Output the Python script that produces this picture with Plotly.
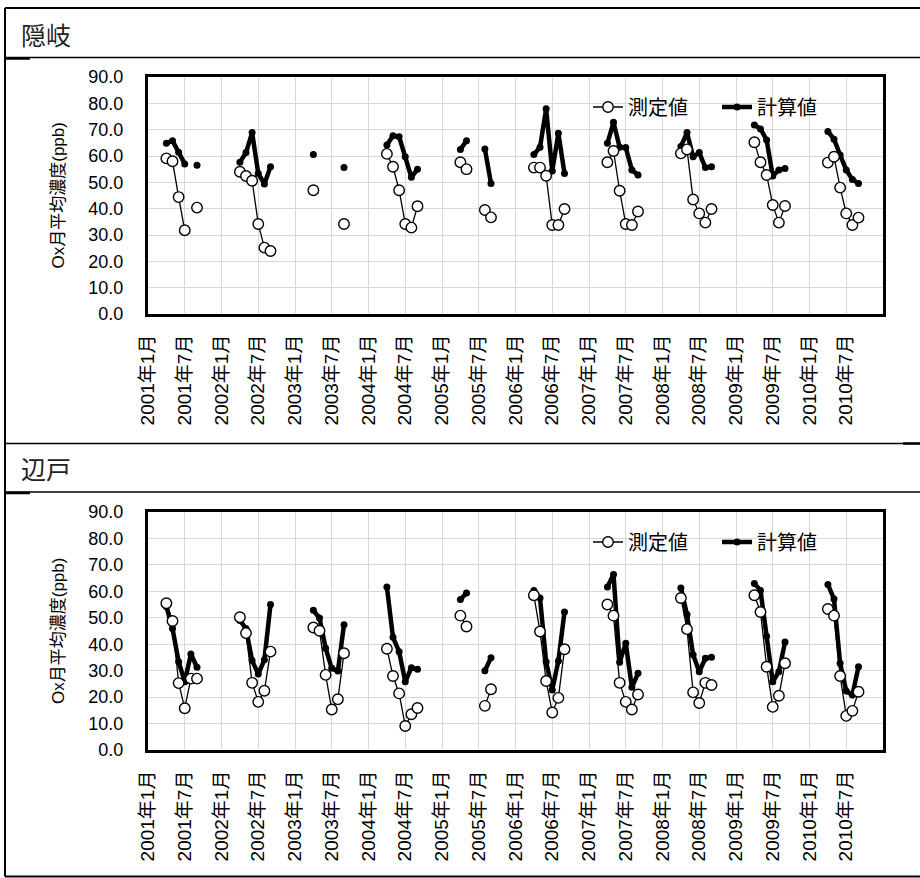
import plotly.graph_objects as go

# ---------------- data ----------------
years = list(range(2001, 2011))
months = [4, 5, 6, 7, 8, 9]          # Apr..Sep
tick_labels = [f"{y}年{m}月" for y in years for m in (1, 7)]

stations = ["隠岐", "辺戸"]
series_names = ["測定値", "計算値"]
y_title = "Ox月平均濃度(ppb)"

oki_obs = [
    [59.1, 58.0, 44.4, 31.8, None, 40.4],
    [54.0, 52.4, 50.6, 34.2, 25.2, 23.9],
    [47.0, None, None, None, None, 34.2],
    [60.8, 55.9, 47.0, 34.2, 32.8, 40.9],
    [57.6, 55.0, None, None, 39.5, 36.7],
    [55.6, 55.6, 52.5, 33.8, 33.8, 39.9],
    [57.6, 61.9, 46.8, 34.2, 33.8, 38.9],
    [61.0, 62.5, 43.5, 38.2, 34.7, 39.9],
    [65.2, 57.6, 52.8, 41.4, 34.7, 41.0],
    [57.5, 59.7, 48.0, 38.2, 33.8, 36.6],
]
oki_calc = [
    [64.8, 65.8, 61.4, 57.0, None, 56.5],
    [57.6, 61.3, 68.9, 53.4, 49.4, 55.9],
    [60.6, None, None, None, None, 55.6],
    [64.2, 67.7, 67.3, 59.7, 51.9, 55.0],
    [62.5, 65.8, None, None, 62.7, 49.6],
    [60.6, 63.3, 77.9, 54.3, 68.6, 53.4],
    [64.8, 72.8, 63.3, 63.2, 54.7, 52.8],
    [63.6, 68.9, 59.7, 61.3, 55.6, 55.9],
    [71.8, 70.3, 66.1, 52.4, 54.7, 55.3],
    [69.3, 66.4, 60.4, 54.7, 51.1, 49.6],
]
hedo_obs = [
    [55.5, 48.8, 25.3, 15.8, 27.0, 27.0],
    [50.2, 44.2, 25.4, 18.2, 22.4, 37.2],
    [46.3, 45.1, 28.4, 15.3, 19.2, 36.6],
    [38.3, 28.0, 21.4, 9.1, 13.5, 15.9],
    [50.8, 46.7, None, None, 16.7, 23.0],
    [58.5, 44.8, 26.1, 14.2, 19.7, 38.1],
    [55.0, 50.8, 25.4, 18.2, 15.3, 21.0],
    [57.5, 45.7, 21.8, 17.8, 25.4, 24.6],
    [58.5, 52.2, 31.5, 16.3, 20.5, 32.8],
    [53.3, 50.8, 28.0, 12.9, 14.8, 22.0],
]
hedo_calc = [
    [54.3, 45.9, 33.4, 25.8, 36.3, 31.3],
    [49.0, 45.9, 33.8, 28.7, 34.1, 55.0],
    [52.8, 49.9, 38.5, 30.9, 29.9, 47.4],
    [61.6, 42.6, 37.2, 25.8, 31.1, 30.5],
    [56.9, 59.4, None, None, 30.0, 34.9],
    [60.3, 57.5, 33.4, 22.7, 33.7, 52.2],
    [61.6, 66.4, 33.2, 40.4, 23.7, 29.0],
    [61.3, 51.2, 36.0, 29.6, 34.7, 35.1],
    [63.0, 60.3, 43.0, 25.8, 29.6, 40.8],
    [62.6, 57.1, 32.8, 22.3, 20.8, 31.5],
]

# ---------------- helpers ----------------
W, H = 920, 878
FONT = "Liberation Sans, Noto Sans CJK JP, sans-serif"


def px_x(v):
    return min(max(v / W, 0.0), 1.0)


def px_y(v):
    return min(max(1 - v / H, 0.0), 1.0)


def month_index(y, m):
    return (y - 2001) * 12 + (m - 1)


def flatten(table):
    xs, ys = [], []
    for yr, row in zip(years, table):
        for m, v in zip(months, row):
            xs.append(month_index(yr, m))
            ys.append(v)
        xs.append(None)
        ys.append(None)
    return xs, ys


tickvals = [month_index(y, m) for y in years for m in (1, 7)]

fig = go.Figure()

panels = [
    (oki_obs, oki_calc, "x", "y", "legend"),
    (hedo_obs, hedo_calc, "x2", "y2", "legend2"),
]
for obs, calc, xa, ya, lg in panels:
    cx, cy = flatten(calc)
    fig.add_trace(go.Scatter(
        x=cx, y=cy, name=series_names[1], xaxis=xa, yaxis=ya, legend=lg,
        mode="lines+markers", connectgaps=False, legendrank=2,
        line=dict(color="black", width=4.5),
        marker=dict(symbol="circle", size=7, color="black"),
    ))
    ox, oy = flatten(obs)
    fig.add_trace(go.Scatter(
        x=ox, y=oy, name=series_names[0], xaxis=xa, yaxis=ya, legend=lg,
        mode="lines+markers", connectgaps=False, legendrank=1,
        line=dict(color="black", width=1.3),
        marker=dict(symbol="circle", size=10.5, color="white",
                    line=dict(color="black", width=1.4)),
    ))

xdom = [px_x(148), px_x(883)]
ydoms = [[px_y(314), px_y(77)], [px_y(750), px_y(512)]]

common_x = dict(
    range=[0, 120], tickmode="array", tickvals=tickvals, ticktext=tick_labels,
    tickangle=-90, tickfont=dict(family=FONT, size=19, color="black"),
    showgrid=True, gridcolor="#d9d9d9", gridwidth=1,
    showline=True, linecolor="black", linewidth=3, mirror=True,
    ticks="outside", ticklen=10, tickcolor="rgba(0,0,0,0)",
    zeroline=False, domain=xdom,
)
common_y = dict(
    range=[0, 90], tickmode="array", tickvals=list(range(0, 91, 10)),
    tickformat=".1f", tickfont=dict(family=FONT, size=18, color="black"),
    showgrid=True, gridcolor="#d9d9d9", gridwidth=1,
    showline=True, linecolor="black", linewidth=3, mirror=True,
    ticks="outside", ticklen=18, tickcolor="rgba(0,0,0,0)",
    zeroline=False,
)

legend_common = dict(
    orientation="h", xanchor="left", yanchor="middle",
    bgcolor="rgba(0,0,0,0)", font=dict(family=FONT, size=20, color="black"),
    itemwidth=30, tracegroupgap=0, entrywidth=84, entrywidthmode="pixels",
)

fig.update_layout(
    width=W, height=H, margin=dict(l=0, r=0, t=0, b=0, autoexpand=False),
    paper_bgcolor="white", plot_bgcolor="white",
    font=dict(family=FONT, color="black"),
    xaxis=dict(**common_x, anchor="y"),
    yaxis=dict(**common_y, domain=ydoms[0], anchor="x"),
    xaxis2=dict(**common_x, anchor="y2"),
    yaxis2=dict(**common_y, domain=ydoms[1], anchor="x2"),
    legend=dict(**legend_common, x=px_x(588), y=px_y(107)),
    legend2=dict(**legend_common, x=px_x(588), y=px_y(542)),
)

# header texts and y titles
for name, yc in zip(stations, [34, 468]):
    fig.add_annotation(text=name, xref="paper", yref="paper",
                       x=px_x(19), y=px_y(yc), xanchor="left", yanchor="middle",
                       showarrow=False,
                       font=dict(family="Noto Sans CJK JP", size=25, color="#222"))
for (lo, hi) in [(77, 314), (512, 750)]:
    fig.add_annotation(text=y_title, xref="paper", yref="paper",
                       x=px_x(58), y=px_y((lo + hi) / 2), textangle=-90,
                       xanchor="center", yanchor="middle", showarrow=False,
                       font=dict(family=FONT, size=17, color="black"))

# table frame lines
shapes = []
for yy, w in [(8, 2), (57.5, 1.5), (443.5, 1.5), (492, 1.5), (876.5, 2)]:
    shapes.append(dict(type="line", xref="paper", yref="paper",
                       x0=px_x(5), x1=1.0, y0=px_y(yy), y1=px_y(yy),
                       line=dict(color="black", width=w)))
shapes.append(dict(type="line", xref="paper", yref="paper",
                   x0=px_x(5), x1=px_x(5), y0=px_y(8), y1=px_y(876.5),
                   line=dict(color="black", width=2)))
for (xa, xb, yy) in [(5, 30, 58.5), (5, 30, 493), (903, 920, 443.5)]:
    shapes.append(dict(type="line", xref="paper", yref="paper",
                       x0=px_x(xa), x1=px_x(xb), y0=px_y(yy), y1=px_y(yy),
                       line=dict(color="black", width=2.5)))
fig.update_layout(shapes=shapes)

fig.write_html("out.html")
